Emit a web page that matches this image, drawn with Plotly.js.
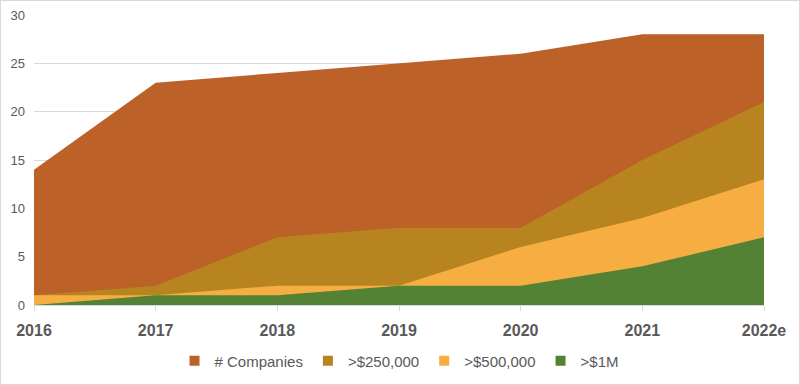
<!DOCTYPE html>
<html><head><meta charset="utf-8">
<script src="https://cdn.plot.ly/plotly-3.0.1.min.js"></script>
<style>html,body{margin:0;padding:0;background:#fff}#c{width:800px;height:385px;box-sizing:border-box;border:1px solid #d9d9d9}</style>
</head><body><div id="c"></div>
<script>
const years = ["2016","2017","2018","2019","2020","2021","2022e"];
const companies = [14, 23, 24, 25, 26, 28, 28];
const over250k = [1, 2, 7, 8, 8, 15, 21];
const over500k = [1, 1, 2, 2, 6, 9, 13];
const over1m = [0, 1, 1, 2, 2, 4, 7];
const names = ["# Companies", ">$250,000", ">$500,000", ">$1M"];
const colors = ["#BC6128", "#B8841F", "#F6AE42", "#548235"];
const series = [companies, over250k, over500k, over1m];
const traces = series.map((s, i) => ({
  x: years, y: s, name: names[i], type: "scatter", mode: "lines",
  fill: "tozeroy", fillcolor: colors[i], line: {width: 0, color: colors[i]},
  hoverinfo: "skip", showlegend: false
}));
// legend entries (square swatches)
names.forEach((n, i) => traces.push({
  x: [null], y: [null], name: n, type: "scatter", mode: "markers",
  marker: {symbol: "square", size: 10, color: colors[i]}, showlegend: true, hoverinfo: "skip"
}));
const layout = {
  width: 798, height: 383,
  margin: {l: 33, r: 35, t: 14, b: 79, autoexpand: false},
  paper_bgcolor: "#fff", plot_bgcolor: "#fff",
  font: {family: "Liberation Sans, Arial, sans-serif", color: "#595959"},
  showlegend: true,
  legend: {orientation: "h", x: 0.5, xanchor: "center", y: -0.193, yanchor: "middle",
    font: {size: 15, color: "#595959"}, traceorder: "normal", itemwidth: 30},
  xaxis: {type: "category", range: [0, 6], showgrid: false, zeroline: false,
    showline: true, linecolor: "#d9d9d9", linewidth: 1,
    ticks: "outside", ticklen: 5, tickcolor: "#d9d9d9", ticklabelstandoff: 6,
    tickfont: {size: 16, color: "#595959", weight: "bold"}, fixedrange: true},
  yaxis: {range: [0, 30], dtick: 5, showgrid: true, gridcolor: "#d9d9d9", zeroline: false,
    showline: false, ticklabelstandoff: 8, tickfont: {size: 13, color: "#595959"}, fixedrange: true}
};
Plotly.newPlot("c", traces, layout, {displayModeBar: false, staticPlot: true});
</script></body></html>
